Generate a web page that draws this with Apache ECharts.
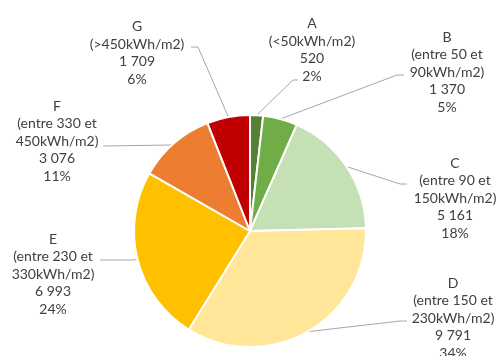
<!DOCTYPE html>
<html>
<head>
<meta charset="utf-8">
<script src="https://cdn.jsdelivr.net/npm/echarts@6/dist/echarts.min.js"></script>
<style>
  html, body { margin: 0; padding: 0; background: #fff; }
  #chart { width: 500px; height: 356px; }
</style>
</head>
<body>
<div id="chart"></div>
<script>
const categories = ['A', 'B', 'C', 'D', 'E', 'F', 'G']
const ranges = ['(<50kWh/m2)', '(entre 50 et\n90kWh/m2)', '(entre 90 et\n150kWh/m2)', '(entre 150 et\n230kWh/m2)',
  '(entre 230 et\n330kWh/m2)', '(entre 330 et\n450kWh/m2)', '(>450kWh/m2)']
const values = [520, 1370, 5161, 9791, 6993, 3076, 1709]
const colors = ['#548235', '#70AD47', '#C5E0B4', '#FFE699', '#FFC000', '#ED7D31', '#C00000']

// label block centres and leader line elbows (layout only)
const labelPos = [[312, 50], [447, 72], [455, 198], [453, 318], [53, 274], [57, 141], [137, 53]]
const lineEnds = [
  [[293, 80], [298, 80]],
  [[397, 75], [404, 75]],
  [[400, 184], [407, 184]],
  [[400, 321], [407, 321]],
  [[133, 260], [100, 260]],
  [[172, 145], [103, 146]],
  [[198, 47], [191, 47]]
]

const fmt = (v) => String(v).replace(/\B(?=(\d{3})+(?!\d))/g, ' ')

const chart = echarts.init(document.getElementById('chart'))
chart.setOption({
  animation: false,
  series: [
    {
      type: 'pie',
      center: [250, 231],
      radius: 116,
      startAngle: 90,
      clockwise: true,
      percentPrecision: 0,
      itemStyle: { borderColor: '#fff', borderWidth: 2 },
      label: {
        show: true,
        position: 'outside',
        color: '#404040',
        fontFamily: 'Lato',
        fontSize: 14,
        lineHeight: 17.5,
        align: 'center',
        overflow: 'none',
        formatter: (p) => p.name + '\n' + ranges[p.dataIndex] + '\n' + fmt(p.value) + '\n' + Math.round(p.percent) + '%'
      },
      labelLine: { show: true, lineStyle: { color: '#A6A6A6', width: 1 } },
      labelLayout: (params) => {
        const i = params.dataIndex
        const pts = [params.labelLinePoints[0]].concat(lineEnds[i])
        return {
          x: labelPos[i][0],
          y: labelPos[i][1],
          align: 'center',
          verticalAlign: 'middle',
          labelLinePoints: pts
        }
      },
      data: categories.map((c, i) => ({
        name: c,
        value: values[i],
        itemStyle: { color: colors[i] }
      }))
    }
  ]
})
</script>
</body>
</html>
